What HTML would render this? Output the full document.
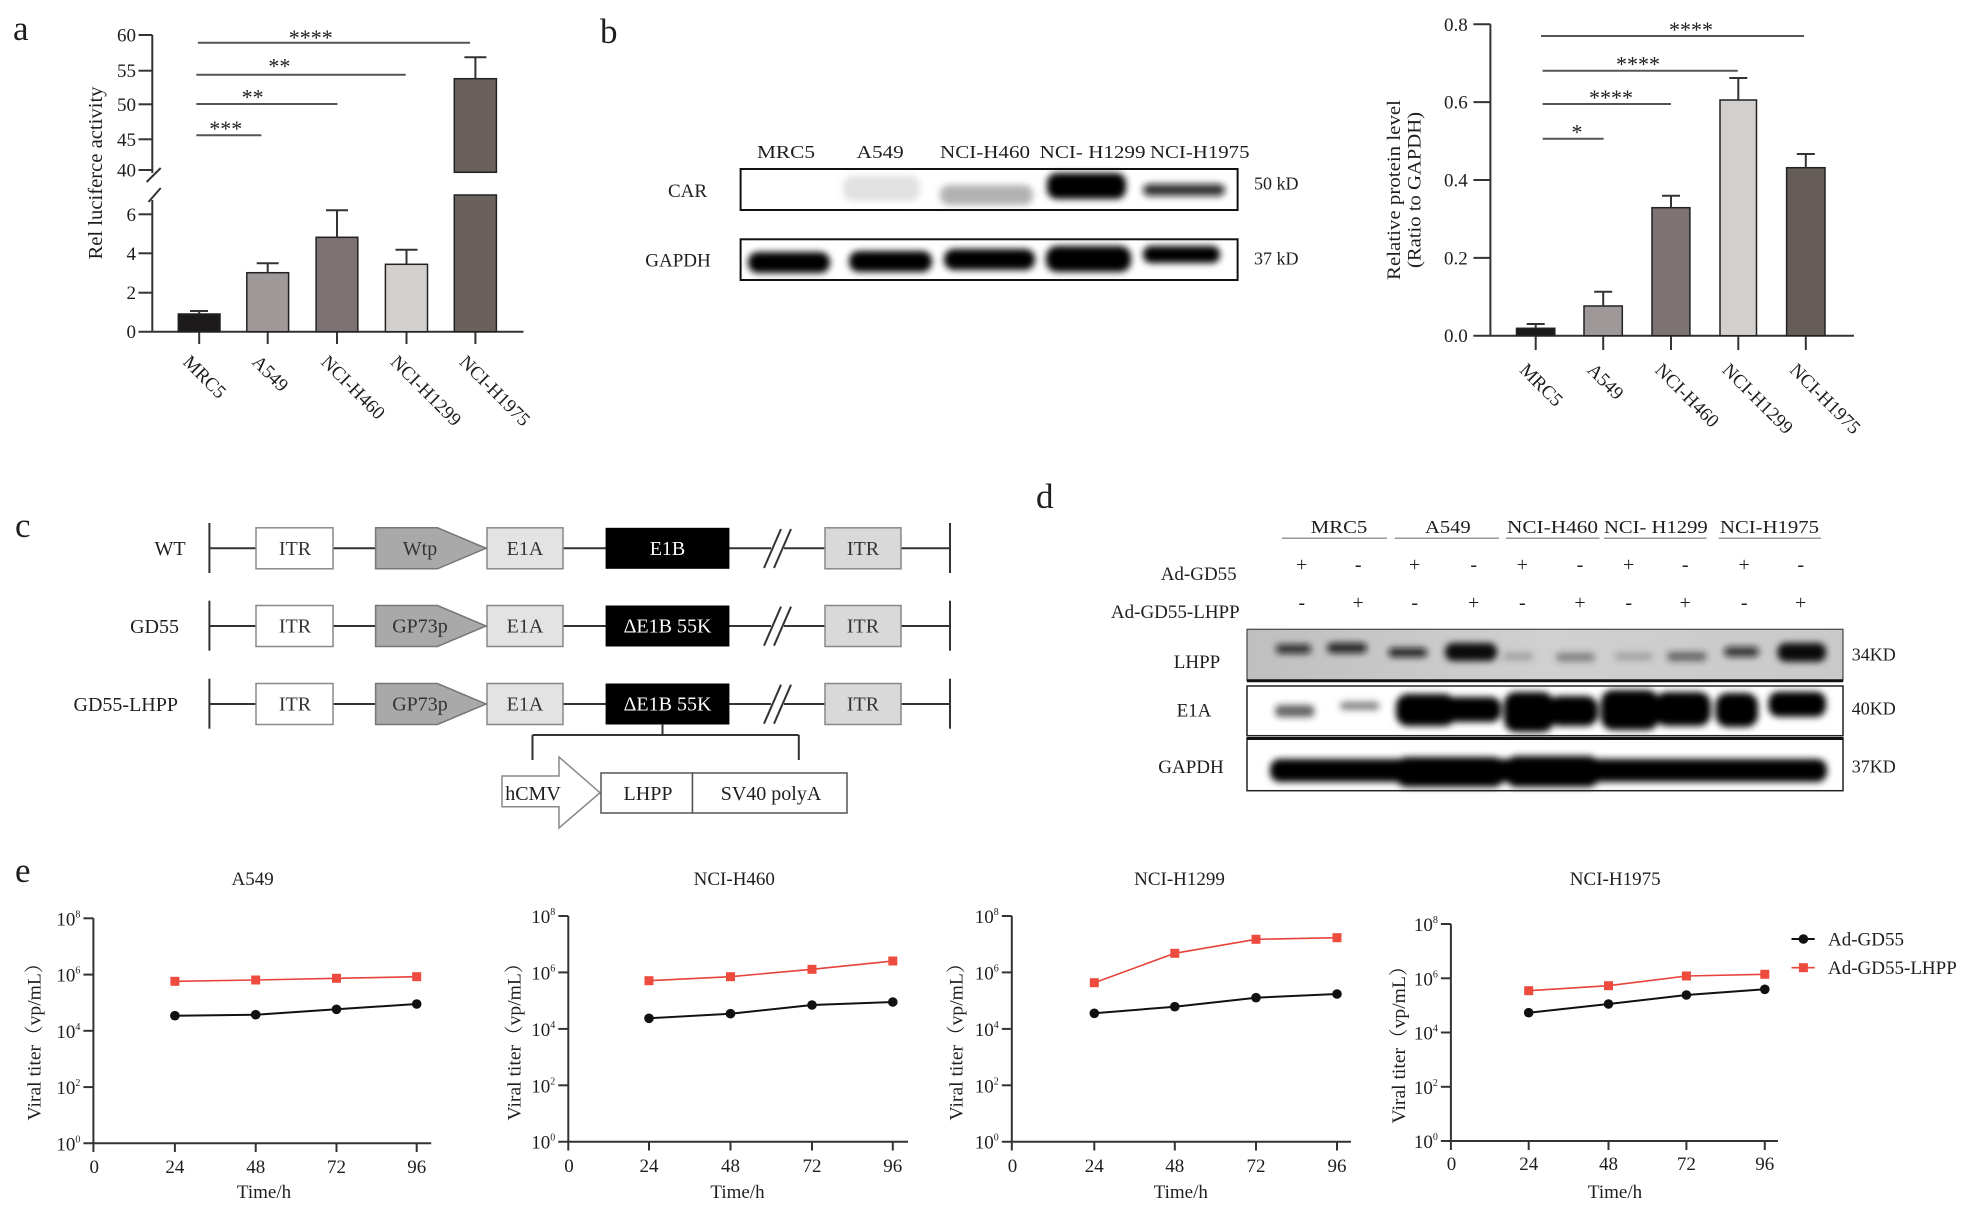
<!DOCTYPE html>
<html><head><meta charset="utf-8"><style>
html,body{margin:0;padding:0;background:#fff;}
svg{display:block;}
text{font-family:"Liberation Serif","Noto Serif CJK SC",serif;fill:#1e1e1e;}
</style></head><body>
<svg width="1983" height="1214" viewBox="0 0 1983 1214" xmlns="http://www.w3.org/2000/svg">
<defs>
<filter id="bl" x="-30%" y="-100%" width="160%" height="300%"><feGaussianBlur stdDeviation="3.4"/></filter>
<linearGradient id="lg" x1="0" y1="0" x2="1" y2="0"><stop offset="0" stop-color="#bfbfbf"/><stop offset="0.5" stop-color="#d0d0d0"/><stop offset="1" stop-color="#c9c9c9"/></linearGradient>
</defs>

<!-- panel letters -->
<text x="13" y="40" font-size="35">a</text>
<text x="600" y="43" font-size="35">b</text>
<text x="15" y="537" font-size="35">c</text>
<text x="1036" y="508" font-size="35">d</text>
<text x="15" y="882" font-size="35">e</text>

<!-- ============ PANEL A ============ -->
<g stroke="#333" stroke-width="2" fill="none">
<line x1="152.3" y1="35" x2="152.3" y2="173"/>
<line x1="152.3" y1="200" x2="152.3" y2="331.7"/>
<line x1="146.6" y1="182" x2="160.7" y2="168"/>
<line x1="148.5" y1="202" x2="160.7" y2="188"/>
<line x1="138.5" y1="35" x2="152.3" y2="35"/>
<line x1="138.5" y1="70.7" x2="152.3" y2="70.7"/>
<line x1="138.5" y1="104.3" x2="152.3" y2="104.3"/>
<line x1="138.5" y1="139.3" x2="152.3" y2="139.3"/>
<line x1="138.5" y1="170" x2="152.3" y2="170"/>
<line x1="138.5" y1="214.3" x2="152.3" y2="214.3"/>
<line x1="138.5" y1="253.3" x2="152.3" y2="253.3"/>
<line x1="138.5" y1="292.7" x2="152.3" y2="292.7"/>
<line x1="138.5" y1="331.7" x2="523.5" y2="331.7"/>
<line x1="199.2" y1="331.7" x2="199.2" y2="344"/>
<line x1="267.7" y1="331.7" x2="267.7" y2="344"/>
<line x1="337" y1="331.7" x2="337" y2="344"/>
<line x1="406.5" y1="331.7" x2="406.5" y2="344"/>
<line x1="475.4" y1="331.7" x2="475.4" y2="344"/>
</g>
<g font-size="19" text-anchor="end">
<text x="136" y="41.5">60</text><text x="136" y="77.2">55</text><text x="136" y="110.8">50</text>
<text x="136" y="145.8">45</text><text x="136" y="176.5">40</text><text x="136" y="220.8">6</text>
<text x="136" y="259.8">4</text><text x="136" y="299.2">2</text><text x="136" y="338.2">0</text>
</g>
<text transform="translate(102,173) rotate(-90)" text-anchor="middle" font-size="20" textLength="173" lengthAdjust="spacingAndGlyphs">Rel luciferce activity</text>
<g stroke="#222" stroke-width="1.5">
<rect x="178.3" y="314" width="41.7" height="17.7" fill="#1c1a1a"/>
<rect x="246.8" y="272.7" width="41.8" height="59" fill="#9e9898"/>
<rect x="316.1" y="237.3" width="41.7" height="94.4" fill="#7d7372"/>
<rect x="385.4" y="264.3" width="42.1" height="67.4" fill="#d3cfcc"/>
<rect x="454.3" y="78.7" width="42.1" height="93.6" fill="#6a615d"/>
<rect x="454.3" y="195" width="42.1" height="136.7" fill="#6a615d"/>
</g>
<g stroke="#333" stroke-width="2">
<line x1="199.2" y1="314" x2="199.2" y2="311"/><line x1="190" y1="311" x2="208" y2="311"/>
<line x1="267.7" y1="272.7" x2="267.7" y2="263.3"/><line x1="256.7" y1="263.3" x2="278.7" y2="263.3"/>
<line x1="337" y1="237.3" x2="337" y2="210.3"/><line x1="326" y1="210.3" x2="348" y2="210.3"/>
<line x1="406.5" y1="264.3" x2="406.5" y2="249.7"/><line x1="395.5" y1="249.7" x2="417.5" y2="249.7"/>
<line x1="475.4" y1="78.7" x2="475.4" y2="57.3"/><line x1="464.4" y1="57.3" x2="486.4" y2="57.3"/>
</g>
<g stroke="#555" stroke-width="2">
<line x1="197.9" y1="42.7" x2="470" y2="42.7"/>
<line x1="196.3" y1="74.7" x2="405.7" y2="74.7"/>
<line x1="196.3" y1="104" x2="337.5" y2="104"/>
<line x1="196.3" y1="135.3" x2="261.4" y2="135.3"/>
</g>
<g font-size="22" text-anchor="middle" fill="#444">
<text x="310.8" y="45">****</text>
<text x="279.4" y="73.6">**</text>
<text x="252.6" y="104.6">**</text>
<text x="225.8" y="136">***</text>
</g>
<g font-size="19">
<text transform="translate(182,363) rotate(45)">MRC5</text>
<text transform="translate(251,363) rotate(45)">A549</text>
<text transform="translate(320,363) rotate(45)">NCI-H460</text>
<text transform="translate(389.5,363) rotate(45)">NCI-H1299</text>
<text transform="translate(458.4,363) rotate(45)">NCI-H1975</text>
</g>

<!-- ============ PANEL B BLOT ============ -->
<g font-size="18">
<text x="757" y="158" textLength="58" lengthAdjust="spacingAndGlyphs">MRC5</text>
<text x="856.7" y="158" textLength="47" lengthAdjust="spacingAndGlyphs">A549</text>
<text x="940" y="158" textLength="90" lengthAdjust="spacingAndGlyphs">NCI-H460</text>
<text x="1039.7" y="158" textLength="105.8" lengthAdjust="spacingAndGlyphs">NCI- H1299</text>
<text x="1150" y="158" textLength="99.5" lengthAdjust="spacingAndGlyphs">NCI-H1975</text>
</g>
<text x="687.5" y="197" font-size="19" text-anchor="middle">CAR</text>
<text x="678" y="266.5" font-size="19" text-anchor="middle">GAPDH</text>
<text x="1254" y="189.5" font-size="18">50 kD</text>
<text x="1254" y="264.5" font-size="18">37 kD</text>
<g filter="url(#bl)">
<rect x="843" y="176" width="77" height="25" rx="10" fill="#777" opacity="0.22"/>
<rect x="940" y="185" width="93" height="20" rx="9" fill="#555" opacity="0.45"/>
<rect x="1047" y="173" width="79" height="26" rx="10" fill="#050505"/>
<rect x="1143" y="184" width="82" height="12" rx="6" fill="#111" opacity="0.85"/>
<rect x="748" y="252" width="82" height="21" rx="10" fill="#050505"/>
<rect x="849" y="251" width="83" height="21" rx="10" fill="#050505"/>
<rect x="944" y="249" width="91" height="21" rx="10" fill="#050505"/>
<rect x="1046" y="246" width="85" height="26" rx="11" fill="#050505"/>
<rect x="1143" y="246" width="77" height="17" rx="8" fill="#050505"/>
</g>
<rect x="740.6" y="169" width="497" height="41" fill="none" stroke="#111" stroke-width="2"/>
<rect x="740.6" y="239.3" width="497" height="40.7" fill="none" stroke="#111" stroke-width="2"/>

<!-- ============ PANEL B CHART ============ -->
<g stroke="#333" stroke-width="2" fill="none">
<line x1="1490.4" y1="24.3" x2="1490.4" y2="335.7"/>
<line x1="1473.4" y1="24.3" x2="1490.4" y2="24.3"/>
<line x1="1473.4" y1="102.15" x2="1490.4" y2="102.15"/>
<line x1="1473.4" y1="180" x2="1490.4" y2="180"/>
<line x1="1473.4" y1="257.85" x2="1490.4" y2="257.85"/>
<line x1="1473.4" y1="335.7" x2="1854" y2="335.7"/>
<line x1="1535.7" y1="335.7" x2="1535.7" y2="350"/>
<line x1="1603.2" y1="335.7" x2="1603.2" y2="350"/>
<line x1="1671" y1="335.7" x2="1671" y2="350"/>
<line x1="1738.3" y1="335.7" x2="1738.3" y2="350"/>
<line x1="1805.8" y1="335.7" x2="1805.8" y2="350"/>
</g>
<g font-size="19" text-anchor="end">
<text x="1467.7" y="30.8">0.8</text><text x="1467.7" y="108.6">0.6</text><text x="1467.7" y="186.5">0.4</text>
<text x="1467.7" y="264.3">0.2</text><text x="1467.7" y="342.2">0.0</text>
</g>
<text transform="translate(1400,190) rotate(-90)" text-anchor="middle" font-size="19" textLength="180" lengthAdjust="spacingAndGlyphs">Relative protein level</text>
<text transform="translate(1420.5,190) rotate(-90)" text-anchor="middle" font-size="19" textLength="156" lengthAdjust="spacingAndGlyphs">(Ratio to GAPDH)</text>
<g stroke="#222" stroke-width="1.5">
<rect x="1516.5" y="328.3" width="38.3" height="7.4" fill="#1c1a1a"/>
<rect x="1584" y="306" width="38.3" height="29.7" fill="#9e9898"/>
<rect x="1652" y="207.7" width="37.9" height="128" fill="#7d7372"/>
<rect x="1720" y="100" width="36.5" height="235.7" fill="#d3cfcc"/>
<rect x="1786.6" y="167.7" width="38.4" height="168" fill="#655c58"/>
</g>
<g stroke="#333" stroke-width="2">
<line x1="1535.7" y1="328.3" x2="1535.7" y2="324"/><line x1="1526.7" y1="324" x2="1544.7" y2="324"/>
<line x1="1603.2" y1="306" x2="1603.2" y2="291.7"/><line x1="1594.2" y1="291.7" x2="1612.2" y2="291.7"/>
<line x1="1671" y1="207.7" x2="1671" y2="195.7"/><line x1="1662" y1="195.7" x2="1680" y2="195.7"/>
<line x1="1738.3" y1="100" x2="1738.3" y2="78"/><line x1="1729.3" y1="78" x2="1747.3" y2="78"/>
<line x1="1805.8" y1="167.7" x2="1805.8" y2="154"/><line x1="1796.8" y1="154" x2="1814.8" y2="154"/>
</g>
<g stroke="#555" stroke-width="2">
<line x1="1541" y1="36" x2="1804" y2="36"/>
<line x1="1542.6" y1="70.7" x2="1737.8" y2="70.7"/>
<line x1="1542.6" y1="104" x2="1671" y2="104"/>
<line x1="1542.6" y1="138.7" x2="1603.6" y2="138.7"/>
</g>
<g font-size="22" text-anchor="middle" fill="#444">
<text x="1691" y="37">****</text>
<text x="1638" y="71.5">****</text>
<text x="1611" y="105">****</text>
<text x="1577" y="139.5">*</text>
</g>
<g font-size="19">
<text transform="translate(1518.7,371) rotate(45)">MRC5</text>
<text transform="translate(1586.2,371) rotate(45)">A549</text>
<text transform="translate(1654,371) rotate(45)">NCI-H460</text>
<text transform="translate(1721.3,371) rotate(45)">NCI-H1299</text>
<text transform="translate(1788.8,371) rotate(45)">NCI-H1975</text>
</g>

<!-- ============ PANEL C ============ -->
<g font-size="20" text-anchor="end">
<text x="185.6" y="555">WT</text>
<text x="179" y="633">GD55</text>
<text x="178" y="711">GD55-LHPP</text>
</g>
<g>
<g stroke="#333" stroke-width="2">
<line x1="209.4" y1="548.3" x2="771" y2="548.3"/><line x1="784" y1="548.3" x2="950" y2="548.3"/>
<line x1="209.4" y1="523" x2="209.4" y2="573"/><line x1="950" y1="523" x2="950" y2="573"/>
<line x1="764" y1="568" x2="781" y2="529"/><line x1="774" y1="568" x2="791" y2="529"/>
</g>
<rect x="256" y="527.8" width="77" height="41" fill="#fff" stroke="#888" stroke-width="1.5"/>
<polygon points="375.6,527.8 437.5,527.8 486,548.3 437.5,568.8 375.6,568.8" fill="#a9a9a9" stroke="#777" stroke-width="1.5"/>
<rect x="487" y="527.8" width="76" height="41" fill="#e3e3e3" stroke="#888" stroke-width="1.5"/>
<rect x="605.6" y="527.8" width="123.8" height="41" fill="#000"/>
<rect x="825" y="527.8" width="76" height="41" fill="#d9d9d9" stroke="#888" stroke-width="1.5"/>
<g font-size="20" text-anchor="middle">
<text x="295" y="555" style="fill:#333">ITR</text><text x="420" y="555" style="fill:#333">Wtp</text>
<text x="525" y="555" style="fill:#333">E1A</text><text x="667.5" y="555" style="fill:#fff">E1B</text>
<text x="863" y="555" style="fill:#333">ITR</text>
</g>
</g>
<g transform="translate(0,77.7)">
<g stroke="#333" stroke-width="2">
<line x1="209.4" y1="548.3" x2="771" y2="548.3"/><line x1="784" y1="548.3" x2="950" y2="548.3"/>
<line x1="209.4" y1="523" x2="209.4" y2="573"/><line x1="950" y1="523" x2="950" y2="573"/>
<line x1="764" y1="568" x2="781" y2="529"/><line x1="774" y1="568" x2="791" y2="529"/>
</g>
<rect x="256" y="527.8" width="77" height="41" fill="#fff" stroke="#888" stroke-width="1.5"/>
<polygon points="375.6,527.8 437.5,527.8 486,548.3 437.5,568.8 375.6,568.8" fill="#a9a9a9" stroke="#777" stroke-width="1.5"/>
<rect x="487" y="527.8" width="76" height="41" fill="#e3e3e3" stroke="#888" stroke-width="1.5"/>
<rect x="605.6" y="527.8" width="123.8" height="41" fill="#000"/>
<rect x="825" y="527.8" width="76" height="41" fill="#d9d9d9" stroke="#888" stroke-width="1.5"/>
<g font-size="20" text-anchor="middle">
<text x="295" y="555" style="fill:#333">ITR</text><text x="420" y="555" style="fill:#333">GP73p</text>
<text x="525" y="555" style="fill:#333">E1A</text><text x="667.5" y="555" style="fill:#fff">ΔE1B 55K</text>
<text x="863" y="555" style="fill:#333">ITR</text>
</g>
</g>
<g transform="translate(0,155.7)">
<g stroke="#333" stroke-width="2">
<line x1="209.4" y1="548.3" x2="771" y2="548.3"/><line x1="784" y1="548.3" x2="950" y2="548.3"/>
<line x1="209.4" y1="523" x2="209.4" y2="573"/><line x1="950" y1="523" x2="950" y2="573"/>
<line x1="764" y1="568" x2="781" y2="529"/><line x1="774" y1="568" x2="791" y2="529"/>
</g>
<rect x="256" y="527.8" width="77" height="41" fill="#fff" stroke="#888" stroke-width="1.5"/>
<polygon points="375.6,527.8 437.5,527.8 486,548.3 437.5,568.8 375.6,568.8" fill="#a9a9a9" stroke="#777" stroke-width="1.5"/>
<rect x="487" y="527.8" width="76" height="41" fill="#e3e3e3" stroke="#888" stroke-width="1.5"/>
<rect x="605.6" y="527.8" width="123.8" height="41" fill="#000"/>
<rect x="825" y="527.8" width="76" height="41" fill="#d9d9d9" stroke="#888" stroke-width="1.5"/>
<g font-size="20" text-anchor="middle">
<text x="295" y="555" style="fill:#333">ITR</text><text x="420" y="555" style="fill:#333">GP73p</text>
<text x="525" y="555" style="fill:#333">E1A</text><text x="667.5" y="555" style="fill:#fff">ΔE1B 55K</text>
<text x="863" y="555" style="fill:#333">ITR</text>
</g>
</g>
<g stroke="#333" stroke-width="2" fill="none">
<line x1="662.5" y1="724" x2="662.5" y2="735"/>
<line x1="532.5" y1="735" x2="798.8" y2="735"/>
<line x1="532.5" y1="735" x2="532.5" y2="760"/>
<line x1="798.8" y1="735" x2="798.8" y2="760"/>
</g>
<polygon points="502,776 559,776 559,757 600,792.7 559,828 559,806.7 502,806.7" fill="#fff" stroke="#888" stroke-width="1.5"/>
<rect x="601" y="773" width="91.5" height="40" fill="#fff" stroke="#555" stroke-width="1.5"/>
<rect x="692.5" y="773" width="154.5" height="40" fill="#fff" stroke="#555" stroke-width="1.5"/>
<g font-size="20" text-anchor="middle">
<text x="533" y="800">hCMV</text>
<text x="648" y="800">LHPP</text>
<text x="771" y="800">SV40 polyA</text>
</g>

<!-- ============ PANEL D ============ -->
<g font-size="18">
<text x="1310.8" y="533" textLength="56.5" lengthAdjust="spacingAndGlyphs">MRC5</text>
<text x="1425" y="533" textLength="45.7" lengthAdjust="spacingAndGlyphs">A549</text>
<text x="1507" y="533" textLength="91" lengthAdjust="spacingAndGlyphs">NCI-H460</text>
<text x="1604" y="533" textLength="103.7" lengthAdjust="spacingAndGlyphs">NCI- H1299</text>
<text x="1720" y="533" textLength="99" lengthAdjust="spacingAndGlyphs">NCI-H1975</text>
</g>
<g stroke="#999" stroke-width="1.5">
<line x1="1282" y1="538.3" x2="1387" y2="538.3"/>
<line x1="1394.7" y1="538.3" x2="1499" y2="538.3"/>
<line x1="1506" y1="538.3" x2="1599.5" y2="538.3"/>
<line x1="1604" y1="538.3" x2="1706.5" y2="538.3"/>
<line x1="1718.6" y1="538.3" x2="1821" y2="538.3"/>
</g>
<text x="1236.7" y="580" font-size="19" text-anchor="end">Ad-GD55</text>
<text x="1239.7" y="618" font-size="19" text-anchor="end">Ad-GD55-LHPP</text>
<g font-size="20" text-anchor="middle">
<text x="1301.7" y="571">+</text><text x="1358.2" y="571">-</text><text x="1414.7" y="571">+</text><text x="1473.7" y="571">-</text><text x="1522.3" y="571">+</text>
<text x="1580" y="571">-</text><text x="1628.7" y="571">+</text><text x="1685.2" y="571">-</text><text x="1744.2" y="571">+</text><text x="1800.7" y="571">-</text>
<text x="1301.7" y="609">-</text><text x="1358.2" y="609">+</text><text x="1414.7" y="609">-</text><text x="1473.7" y="609">+</text><text x="1522.3" y="609">-</text>
<text x="1580" y="609">+</text><text x="1628.7" y="609">-</text><text x="1685.2" y="609">+</text><text x="1744.2" y="609">-</text><text x="1800.7" y="609">+</text>
</g>
<text x="1197" y="668" font-size="19" text-anchor="middle">LHPP</text>
<text x="1194" y="716.5" font-size="19" text-anchor="middle">E1A</text>
<text x="1191" y="773" font-size="19" text-anchor="middle">GAPDH</text>
<text x="1851.8" y="660.5" font-size="18">34KD</text>
<text x="1851.8" y="714.5" font-size="18">40KD</text>
<text x="1851.8" y="772.5" font-size="18">37KD</text>
<rect x="1247" y="629.3" width="596" height="51.4" fill="url(#lg)"/>
<rect x="1247" y="686" width="596" height="49.7" fill="#fff"/>
<rect x="1247" y="738" width="596" height="52.7" fill="#fff"/>
<g filter="url(#bl)">
<rect x="1276" y="644.5" width="35" height="9" rx="4" fill="#111" opacity="0.85"/>
<rect x="1327" y="643" width="40" height="10" rx="5" fill="#111" opacity="0.9"/>
<rect x="1388.6" y="648" width="38.4" height="9" rx="4" fill="#111" opacity="0.9"/>
<rect x="1445" y="643" width="52" height="18" rx="8" fill="#050505" opacity="0.95"/>
<rect x="1503" y="653" width="30" height="7" rx="3" fill="#444" opacity="0.35"/>
<rect x="1556" y="653" width="39" height="8.5" rx="4" fill="#333" opacity="0.5"/>
<rect x="1614.7" y="653" width="38" height="7" rx="3" fill="#444" opacity="0.35"/>
<rect x="1667" y="652" width="39.5" height="9" rx="4" fill="#222" opacity="0.6"/>
<rect x="1724" y="646.7" width="35" height="10" rx="5" fill="#111" opacity="0.8"/>
<rect x="1777.6" y="643" width="48.4" height="18.7" rx="8" fill="#050505" opacity="0.95"/>
</g>
<g filter="url(#bl)">
<rect x="1275" y="705" width="39.5" height="12" rx="5" fill="#222" opacity="0.7"/>
<rect x="1340" y="701.7" width="39.5" height="8.3" rx="4" fill="#333" opacity="0.6"/>
<rect x="1396" y="694" width="60" height="32" rx="12" fill="#050505"/>
<rect x="1446" y="697" width="55" height="25" rx="10" fill="#050505"/>
<rect x="1504" y="692" width="50" height="40" rx="12" fill="#050505"/>
<rect x="1548" y="696" width="50" height="30" rx="12" fill="#050505"/>
<rect x="1601" y="690" width="58" height="40" rx="12" fill="#050505"/>
<rect x="1655" y="692" width="55.7" height="34" rx="12" fill="#050505"/>
<rect x="1715.6" y="693" width="42.4" height="34" rx="12" fill="#050505"/>
<rect x="1768.5" y="691.7" width="57.5" height="25" rx="10" fill="#050505"/>
</g>
<g filter="url(#bl)">
<rect x="1270" y="759" width="557" height="23" rx="10" fill="#050505"/>
<rect x="1395" y="757" width="110" height="30" rx="12" fill="#050505"/>
<rect x="1505" y="756" width="95" height="31" rx="12" fill="#050505"/>
</g>
<rect x="1247" y="629.3" width="596" height="51.4" fill="none" stroke="#444" stroke-width="1.2"/>
<line x1="1247" y1="680.7" x2="1843" y2="680.7" stroke="#111" stroke-width="3"/>
<rect x="1247" y="686" width="596" height="49.7" fill="none" stroke="#222" stroke-width="1.5"/>
<rect x="1247" y="738" width="596" height="52.7" fill="none" stroke="#222" stroke-width="1.5"/>
<line x1="1247" y1="738.5" x2="1843" y2="738.5" stroke="#111" stroke-width="3"/>

<!-- ============ PANEL E ============ -->
<g font-size="19" text-anchor="middle">
<text x="252.6" y="885">A549</text>
<text x="734.3" y="885">NCI-H460</text>
<text x="1179.5" y="885">NCI-H1299</text>
<text x="1615.2" y="885">NCI-H1975</text>
<text x="264" y="1198">Time/h</text>
<text x="737.5" y="1198">Time/h</text>
<text x="1180.8" y="1198">Time/h</text>
<text x="1615" y="1198">Time/h</text>
</g>
<g font-size="19">
<text transform="translate(40.5,1037) rotate(-90)" text-anchor="middle" textLength="167" lengthAdjust="spacingAndGlyphs">Viral titer（vp/mL）</text>
<text transform="translate(520.5,1037) rotate(-90)" text-anchor="middle" textLength="167" lengthAdjust="spacingAndGlyphs">Viral titer（vp/mL）</text>
<text transform="translate(962.5,1037) rotate(-90)" text-anchor="middle" textLength="167" lengthAdjust="spacingAndGlyphs">Viral titer（vp/mL）</text>
<text transform="translate(1405,1040) rotate(-90)" text-anchor="middle" textLength="167" lengthAdjust="spacingAndGlyphs">Viral titer（vp/mL）</text>
</g>

<!-- chart 1 -->
<g stroke="#333" stroke-width="2" fill="none">
<line x1="93.4" y1="918.3" x2="93.4" y2="1143.3"/>
<line x1="83.4" y1="918.3" x2="93.4" y2="918.3"/><line x1="83.4" y1="974.6" x2="93.4" y2="974.6"/>
<line x1="83.4" y1="1030.8" x2="93.4" y2="1030.8"/><line x1="83.4" y1="1087.1" x2="93.4" y2="1087.1"/>
<line x1="83.4" y1="1143.3" x2="431.2" y2="1143.3"/>
<line x1="93.4" y1="1143.3" x2="93.4" y2="1152"/><line x1="174.9" y1="1143.3" x2="174.9" y2="1152"/>
<line x1="255.7" y1="1143.3" x2="255.7" y2="1152"/><line x1="336.5" y1="1143.3" x2="336.5" y2="1152"/>
<line x1="416.7" y1="1143.3" x2="416.7" y2="1152"/>
</g>
<g font-size="19" text-anchor="end">
<text x="80.4" y="925.3">10<tspan font-size="10" dy="-8">8</tspan></text>
<text x="80.4" y="981.6">10<tspan font-size="10" dy="-8">6</tspan></text>
<text x="80.4" y="1037.8">10<tspan font-size="10" dy="-8">4</tspan></text>
<text x="80.4" y="1094.1">10<tspan font-size="10" dy="-8">2</tspan></text>
<text x="80.4" y="1150.3">10<tspan font-size="10" dy="-8">0</tspan></text>
</g>
<g font-size="19" text-anchor="middle">
<text x="94.3" y="1173">0</text><text x="174.9" y="1173">24</text><text x="255.7" y="1173">48</text><text x="336.5" y="1173">72</text><text x="416.7" y="1173">96</text>
</g>
<polyline points="174.9,1015.7 255.7,1014.7 336.5,1009.3 416.7,1004" fill="none" stroke="#111" stroke-width="2"/>
<polyline points="174.9,981.3 255.7,980 336.5,978.3 416.7,976.7" fill="none" stroke="#e8433a" stroke-width="1.6"/>
<g fill="#111"><circle cx="174.9" cy="1015.7" r="4.8"/><circle cx="255.7" cy="1014.7" r="4.8"/><circle cx="336.5" cy="1009.3" r="4.8"/><circle cx="416.7" cy="1004" r="4.8"/></g>
<g fill="#ee4b3f"><rect x="170.4" y="976.8" width="9" height="9"/><rect x="251.2" y="975.5" width="9" height="9"/><rect x="332" y="973.8" width="9" height="9"/><rect x="412.2" y="972.2" width="9" height="9"/></g>

<!-- chart 2 -->
<g stroke="#333" stroke-width="2" fill="none">
<line x1="568.3" y1="916" x2="568.3" y2="1141.7"/>
<line x1="558.3" y1="916" x2="568.3" y2="916"/><line x1="558.3" y1="972.4" x2="568.3" y2="972.4"/>
<line x1="558.3" y1="1028.9" x2="568.3" y2="1028.9"/><line x1="558.3" y1="1085.3" x2="568.3" y2="1085.3"/>
<line x1="558.3" y1="1141.7" x2="908" y2="1141.7"/>
<line x1="568.3" y1="1141.7" x2="568.3" y2="1150.5"/><line x1="649" y1="1141.7" x2="649" y2="1150.5"/>
<line x1="730.5" y1="1141.7" x2="730.5" y2="1150.5"/><line x1="812" y1="1141.7" x2="812" y2="1150.5"/>
<line x1="892.8" y1="1141.7" x2="892.8" y2="1150.5"/>
</g>
<g font-size="19" text-anchor="end">
<text x="555.3" y="923">10<tspan font-size="10" dy="-8">8</tspan></text>
<text x="555.3" y="979.4">10<tspan font-size="10" dy="-8">6</tspan></text>
<text x="555.3" y="1035.9">10<tspan font-size="10" dy="-8">4</tspan></text>
<text x="555.3" y="1092.3">10<tspan font-size="10" dy="-8">2</tspan></text>
<text x="555.3" y="1148.7">10<tspan font-size="10" dy="-8">0</tspan></text>
</g>
<g font-size="19" text-anchor="middle">
<text x="569" y="1172">0</text><text x="649" y="1172">24</text><text x="730.5" y="1172">48</text><text x="812" y="1172">72</text><text x="892.8" y="1172">96</text>
</g>
<polyline points="649,1018.3 730.5,1013.7 812,1005 892.8,1002" fill="none" stroke="#111" stroke-width="2"/>
<polyline points="649,980.7 730.5,976.7 812,969.3 892.8,961" fill="none" stroke="#e8433a" stroke-width="1.6"/>
<g fill="#111"><circle cx="649" cy="1018.3" r="4.8"/><circle cx="730.5" cy="1013.7" r="4.8"/><circle cx="812" cy="1005" r="4.8"/><circle cx="892.8" cy="1002" r="4.8"/></g>
<g fill="#ee4b3f"><rect x="644.5" y="976.2" width="9" height="9"/><rect x="726" y="972.2" width="9" height="9"/><rect x="807.5" y="964.8" width="9" height="9"/><rect x="888.3" y="956.5" width="9" height="9"/></g>

<!-- chart 3 -->
<g stroke="#333" stroke-width="2" fill="none">
<line x1="1011.8" y1="916" x2="1011.8" y2="1141.7"/>
<line x1="1001.8" y1="916" x2="1011.8" y2="916"/><line x1="1001.8" y1="972.4" x2="1011.8" y2="972.4"/>
<line x1="1001.8" y1="1028.9" x2="1011.8" y2="1028.9"/><line x1="1001.8" y1="1085.3" x2="1011.8" y2="1085.3"/>
<line x1="1001.8" y1="1141.7" x2="1351" y2="1141.7"/>
<line x1="1011.8" y1="1141.7" x2="1011.8" y2="1150.5"/><line x1="1094.3" y1="1141.7" x2="1094.3" y2="1150.5"/>
<line x1="1174.8" y1="1141.7" x2="1174.8" y2="1150.5"/><line x1="1256" y1="1141.7" x2="1256" y2="1150.5"/>
<line x1="1337" y1="1141.7" x2="1337" y2="1150.5"/>
</g>
<g font-size="19" text-anchor="end">
<text x="998.8" y="923">10<tspan font-size="10" dy="-8">8</tspan></text>
<text x="998.8" y="979.4">10<tspan font-size="10" dy="-8">6</tspan></text>
<text x="998.8" y="1035.9">10<tspan font-size="10" dy="-8">4</tspan></text>
<text x="998.8" y="1092.3">10<tspan font-size="10" dy="-8">2</tspan></text>
<text x="998.8" y="1148.7">10<tspan font-size="10" dy="-8">0</tspan></text>
</g>
<g font-size="19" text-anchor="middle">
<text x="1012.5" y="1172">0</text><text x="1094.3" y="1172">24</text><text x="1174.8" y="1172">48</text><text x="1256" y="1172">72</text><text x="1337" y="1172">96</text>
</g>
<polyline points="1094.3,1013.3 1174.8,1006.7 1256,997.7 1337,994" fill="none" stroke="#111" stroke-width="2"/>
<polyline points="1094.3,982.7 1174.8,953.3 1256,939.3 1337,937.7" fill="none" stroke="#e8433a" stroke-width="1.6"/>
<g fill="#111"><circle cx="1094.3" cy="1013.3" r="4.8"/><circle cx="1174.8" cy="1006.7" r="4.8"/><circle cx="1256" cy="997.7" r="4.8"/><circle cx="1337" cy="994" r="4.8"/></g>
<g fill="#ee4b3f"><rect x="1089.8" y="978.2" width="9" height="9"/><rect x="1170.3" y="948.8" width="9" height="9"/><rect x="1251.5" y="934.8" width="9" height="9"/><rect x="1332.5" y="933.2" width="9" height="9"/></g>

<!-- chart 4 -->
<g stroke="#333" stroke-width="2" fill="none">
<line x1="1450.9" y1="924" x2="1450.9" y2="1141"/>
<line x1="1440.9" y1="924" x2="1450.9" y2="924"/><line x1="1440.9" y1="978.3" x2="1450.9" y2="978.3"/>
<line x1="1440.9" y1="1032.5" x2="1450.9" y2="1032.5"/><line x1="1440.9" y1="1086.8" x2="1450.9" y2="1086.8"/>
<line x1="1440.9" y1="1141" x2="1778" y2="1141"/>
<line x1="1450.9" y1="1141" x2="1450.9" y2="1150"/><line x1="1528.7" y1="1141" x2="1528.7" y2="1150"/>
<line x1="1608.5" y1="1141" x2="1608.5" y2="1150"/><line x1="1686.4" y1="1141" x2="1686.4" y2="1150"/>
<line x1="1764.8" y1="1141" x2="1764.8" y2="1150"/>
</g>
<g font-size="19" text-anchor="end">
<text x="1437.9" y="931">10<tspan font-size="10" dy="-8">8</tspan></text>
<text x="1437.9" y="985.3">10<tspan font-size="10" dy="-8">6</tspan></text>
<text x="1437.9" y="1039.5">10<tspan font-size="10" dy="-8">4</tspan></text>
<text x="1437.9" y="1093.8">10<tspan font-size="10" dy="-8">2</tspan></text>
<text x="1437.9" y="1148">10<tspan font-size="10" dy="-8">0</tspan></text>
</g>
<g font-size="19" text-anchor="middle">
<text x="1451.5" y="1170">0</text><text x="1528.7" y="1170">24</text><text x="1608.5" y="1170">48</text><text x="1686.4" y="1170">72</text><text x="1764.8" y="1170">96</text>
</g>
<polyline points="1528.7,1012.7 1608.5,1004 1686.4,995 1764.8,989.3" fill="none" stroke="#111" stroke-width="2"/>
<polyline points="1528.7,990.7 1608.5,985.7 1686.4,976 1764.8,974.3" fill="none" stroke="#e8433a" stroke-width="1.6"/>
<g fill="#111"><circle cx="1528.7" cy="1012.7" r="4.8"/><circle cx="1608.5" cy="1004" r="4.8"/><circle cx="1686.4" cy="995" r="4.8"/><circle cx="1764.8" cy="989.3" r="4.8"/></g>
<g fill="#ee4b3f"><rect x="1524.2" y="986.2" width="9" height="9"/><rect x="1604" y="981.2" width="9" height="9"/><rect x="1681.9" y="971.5" width="9" height="9"/><rect x="1760.3" y="969.8" width="9" height="9"/></g>

<!-- legend -->
<line x1="1791.5" y1="939" x2="1814.7" y2="939" stroke="#111" stroke-width="2"/>
<circle cx="1803.4" cy="939" r="4.8" fill="#111"/>
<text x="1828" y="945.5" font-size="19">Ad-GD55</text>
<line x1="1791.5" y1="967.7" x2="1814.7" y2="967.7" stroke="#e8433a" stroke-width="1.6"/>
<rect x="1798.9" y="963.2" width="9" height="9" fill="#ee4b3f"/>
<text x="1828" y="974" font-size="19">Ad-GD55-LHPP</text>
</svg>
</body></html>
